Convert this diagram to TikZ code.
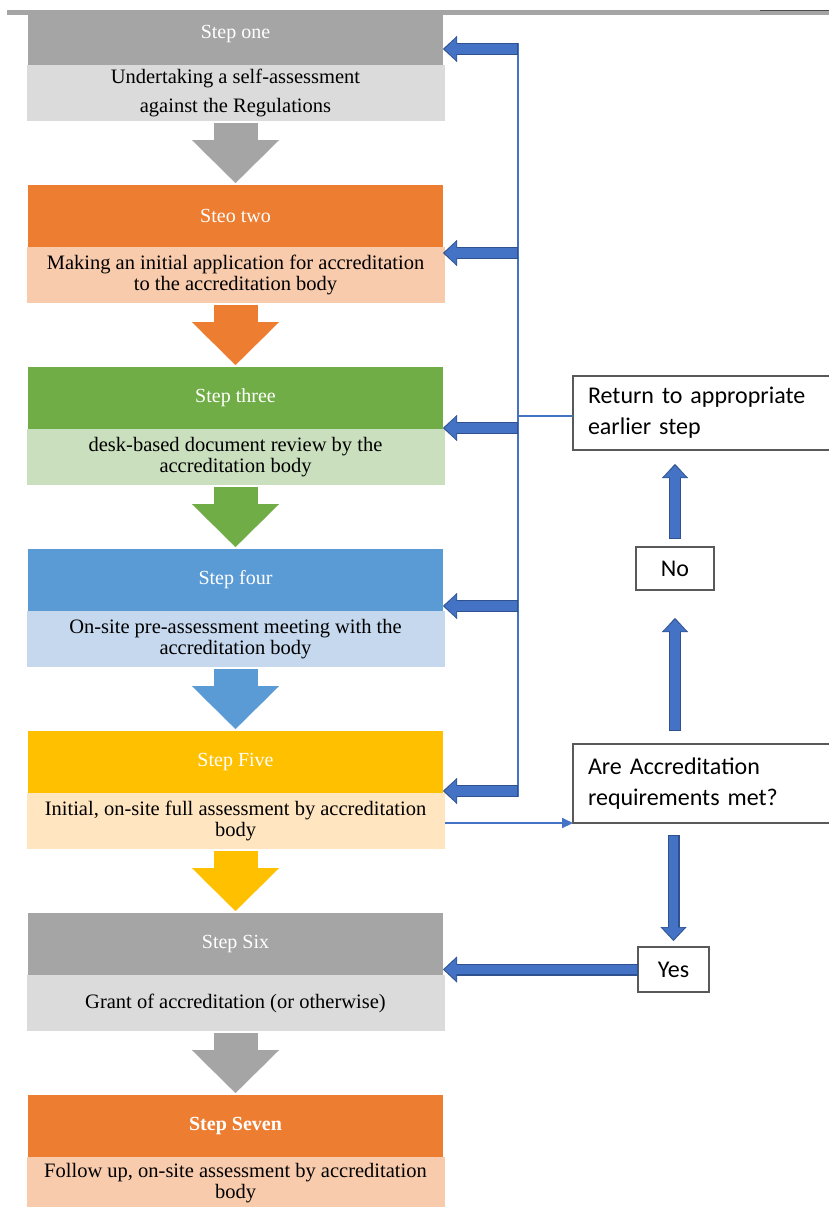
\documentclass[tikz,border=0pt]{standalone}
\usepackage{fontspec}
\setmainfont{Liberation Serif}
\newfontfamily\calibri{Carlito}
\usetikzlibrary{arrows.meta,positioning,calc}
\definecolor{greyhead}{HTML}{A5A5A5}
\definecolor{greybody}{HTML}{DBDBDB}
\definecolor{orangehead}{HTML}{ED7D31}
\definecolor{orangebody}{HTML}{F8CBAD}
\definecolor{greenhead}{HTML}{70AD47}
\definecolor{greenbody}{HTML}{CADFBE}
\definecolor{bluehead}{HTML}{5B9BD5}
\definecolor{bluebody}{HTML}{C5D8EE}
\definecolor{goldhead}{HTML}{FFC000}
\definecolor{goldbody}{HTML}{FFE5C0}
\definecolor{arrowfill}{HTML}{4472C4}
\definecolor{arrowline}{HTML}{2F528F}
\definecolor{ink}{HTML}{000000}
\tikzset{
  >=Latex,
  every node/.style={text=ink,outer sep=0pt},
  stephead/.style={anchor=north west,minimum width=415pt,minimum height=62pt,inner sep=0pt,text=white,align=center,font=\fontsize{20}{24}\selectfont},
  stepbody/.style={minimum width=418pt,minimum height=56pt,inner sep=0pt,align=center,font=\fontsize{20.5}{21}\selectfont},
  flowarrow/.style={line width=44pt,shorten <=2pt,shorten >=2pt,-{Triangle[width=87pt,length=43pt,line width=0.1pt]}},
  backarrow/.style={line width=12pt,draw=arrowline,-{Triangle[width=26pt,length=14pt,line width=0.1pt]},
    postaction={draw=arrowfill,line width=9.6pt,shorten >=1.6pt,shorten <=1pt,-{Triangle[width=22.5pt,length=11.8pt,line width=0.1pt]}}},
  link/.style={draw=arrowfill,line width=2pt},
  answer/.style={draw=ink!65,line width=1.2pt,fill=white,align=left,inner xsep=15pt,inner ysep=0pt,font=\calibri\fontsize{24}{31}\selectfont},
  tag/.style={draw=ink!65,line width=1.2pt,fill=white,inner sep=0pt,font=\calibri\fontsize{24}{28}\selectfont},
}

\begin{document}
\begin{tikzpicture}[x=1pt,y=-1pt]
\useasboundingbox (0,0) rectangle (829,1207);

% top rule
\fill[greyhead] (7,10) rectangle (829,15);
\draw[ink!70,line width=1pt] (760,10.5) -- (829,10.5);

% steps
\node[stephead,fill=greyhead,minimum height=50pt] (s1h) at (28,15) {\raisebox{16pt}{Step one}};
\node[stepbody,fill=greybody,below=0pt of s1h,font=\fontsize{20.5}{29}\selectfont] (s1b)
{Undertaking a self-assessment\\against the Regulations};

\node[stephead,fill=orangehead] (s2h) at (28,185) {Steo two};
\node[stepbody,fill=orangebody,below=0pt of s2h] (s2b)
{Making an initial application for accreditation\\to the accreditation body};

\node[stephead,fill=greenhead] (s3h) at (28,367) {Step three};
\node[stepbody,fill=greenbody,below=0pt of s3h] (s3b)
{desk-based document review by the\\accreditation body};

\node[stephead,fill=bluehead] (s4h) at (28,549) {Step four};
\node[stepbody,fill=bluebody,below=0pt of s4h] (s4b)
{On-site pre-assessment meeting with the\\accreditation body};

\node[stephead,fill=goldhead] (s5h) at (28,731) {Step Five};
\node[stepbody,fill=goldbody,below=0pt of s5h] (s5b)
{Initial, on-site full assessment by accreditation\\body};

\node[stephead,fill=greyhead] (s6h) at (28,913) {Step Six};
\node[stepbody,fill=greybody,below=0pt of s6h] (s6b)
{Grant of accreditation (or otherwise)};

\node[stephead,fill=orangehead] (s7h) at (28,1095) {\textbf{Step Seven}};
\node[stepbody,fill=orangebody,below=0pt of s7h,minimum height=52pt] (s7b)
{Follow up, on-site assessment by accreditation\\body};

\draw[flowarrow,greyhead] (s1b.south) -- (s2h.north);
\draw[flowarrow,orangehead] (s2b.south) -- (s3h.north);
\draw[flowarrow,greenhead] (s3b.south) -- (s4h.north);
\draw[flowarrow,bluehead] (s4b.south) -- (s5h.north);
\draw[flowarrow,goldhead] (s5b.south) -- (s6h.north);
\draw[flowarrow,greyhead] (s6b.south) -- (s7h.north);

% decision side
\node[answer,anchor=north west,minimum width=259pt,minimum height=74pt,text width=229pt] (ret) at (573,376)
{Return to appropriate\\earlier step};
\node[tag,anchor=north west,minimum width=78pt,minimum height=43pt] (no) at (636,547) {No};
\node[answer,anchor=north west,minimum width=259pt,minimum height=79pt,text width=229pt] (are) at (573,744)
{Are Accreditation\\requirements met?};
\node[tag,anchor=north west,minimum width=71pt,minimum height=45pt] (yes) at (638,947) {Yes};

% return loop
\coordinate (r1) at (518,49);
\coordinate (r2) at (518,253);
\coordinate (r3) at (518,428);
\coordinate (r4) at (518,606);
\coordinate (r5) at (518,791);
\draw[link] ($(r1)+(0,-6)$) -- ($(r5)+(0,6)$);
\draw[link] ($(ret.west)+(0,3)$) -- ($(ret.west -| r1)+(0,3)$);
\draw[backarrow] (r1) -- (r1 -| s1h.east);
\draw[backarrow] (r2) -- (r2 -| s2h.east);
\draw[backarrow] (r3) -- (r3 -| s3h.east);
\draw[backarrow] (r4) -- (r4 -| s4h.east);
\draw[backarrow] (r5) -- (r5 -| s5h.east);

\draw[link,-{Triangle[width=10pt,length=11pt]}] (s5b.east |- are.south) -- (are.south west);
\draw[backarrow] ($(are.north -| no.south)+(0,-13)$) -- ($(no.south)+(0,28)$);
\draw[backarrow] ($(no.north)+(0,-8)$) -- ($(no.north |- ret.south)+(0,14)$);
\draw[backarrow] ($(yes.north |- are.south)+(0,12)$) -- ($(yes.north)+(0,-6)$);
\draw[backarrow] (yes.west) -- (yes.west -| s6h.east);

\end{tikzpicture}
\end{document}
